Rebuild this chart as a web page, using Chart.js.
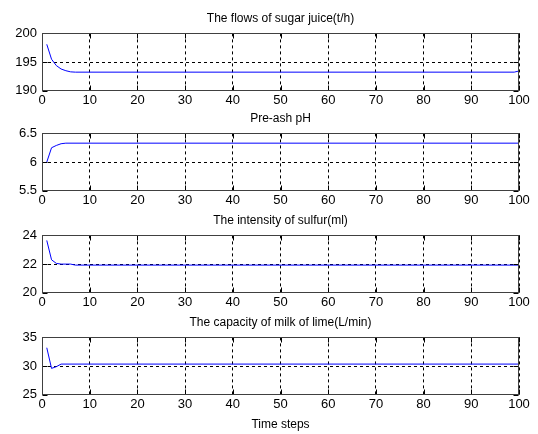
<!DOCTYPE html>
<html>
<head>
<meta charset="utf-8">
<script src="https://cdn.jsdelivr.net/npm/chart.js@4/dist/chart.umd.min.js"></script>
<style>
  body { margin: 0; background: #fff; }
  #wrap { position: relative; width: 538px; height: 434px; background: #fff; overflow: hidden; }
  canvas { position: absolute; left: 0; }
</style>
</head>
<body>
<div id="wrap">
  <canvas id="c1" width="538" height="120" style="top:1px"></canvas>
  <canvas id="c2" width="538" height="120" style="top:101px"></canvas>
  <canvas id="c3" width="538" height="120" style="top:203px"></canvas>
  <canvas id="c4" width="538" height="129" style="top:305px"></canvas>
</div>
<script>
// time steps where the curves change, plus the end of the run
const flowSteps = [1, 2, 3, 4, 5, 6, 7, 99, 100];
const flowValues = [198.1, 195.5, 194.4, 193.8, 193.5, 193.3, 193.25, 193.25, 193.45];

const phSteps = [1, 2, 3, 4, 5, 100];
const phValues = [6.0, 6.25, 6.29, 6.32, 6.33, 6.33];

const sulfurSteps = [1, 2, 3, 4, 6, 7, 100];
const sulfurValues = [23.65, 22.3, 22.05, 22.0, 22.0, 21.93, 21.93];

const limeSteps = [1, 2, 3, 4, 100];
const limeValues = [33.2, 29.6, 29.9, 30.35, 30.35];

const titles = [
  'The flows of sugar juice(t/h)',
  'Pre-ash pH',
  'The intensity of sulfur(ml)',
  'The capacity of milk of lime(L/min)'
];

Chart.defaults.font.family = '"Liberation Sans", Arial, sans-serif';
Chart.defaults.color = '#000';

// MATLAB style box with inward tick marks
const frame = {
  id: 'frame',
  afterDatasetsDraw(chart) {
    const { ctx, chartArea: a, scales: { x, y } } = chart;
    const L = Math.round(a.left) + 0.5, R = Math.round(a.right) - 0.5;
    const T = Math.round(a.top) + 0.5, B = Math.round(a.bottom) - 0.5;
    ctx.save();
    ctx.setLineDash([]);
    ctx.lineWidth = 1;
    ctx.strokeStyle = '#000';
    ctx.beginPath();
    x.ticks.forEach(t => {
      const px = Math.round(x.getPixelForValue(t.value)) + 0.5;
      ctx.moveTo(px, B); ctx.lineTo(px, B - 5);
      ctx.moveTo(px, T); ctx.lineTo(px, T + 5);
    });
    y.ticks.forEach(t => {
      const py = Math.round(y.getPixelForValue(t.value)) + 0.5;
      ctx.moveTo(L, py); ctx.lineTo(L + 5, py);
      ctx.moveTo(R, py); ctx.lineTo(R - 5, py);
    });
    ctx.stroke();
    ctx.strokeStyle = '#404040';
    ctx.strokeRect(L, T, R - L, B - T);
    ctx.restore();
  }
};

function makeChart(id, title, steps, values, yMin, yMax, yStep, xHeight, xLabel) {
  const canvas = document.getElementById(id);
  const padBottom = canvas.height - 32.4 - 57.4 - xHeight;
  return new Chart(canvas, {
    type: 'line',
    data: {
      datasets: [{
        data: steps.map((s, i) => ({ x: s, y: values[i] })),
        borderColor: '#0000ff',
        borderWidth: 1,
        pointRadius: 0,
        tension: 0,
        fill: false
      }]
    },
    options: {
      responsive: false,
      animation: false,
      devicePixelRatio: 1,
      layout: { padding: { left: 0, right: 19, top: 0, bottom: Math.max(padBottom, 0) } },
      plugins: {
        legend: { display: false },
        tooltip: { enabled: false },
        title: {
          display: true,
          text: title,
          fullSize: false,
          color: '#000',
          font: { size: 12, weight: 'normal' },
          padding: { top: 10, bottom: 8 }
        }
      },
      scales: {
        x: {
          type: 'linear',
          min: 0, max: 100,
          ticks: { stepSize: 10, padding: 2, font: { size: 13 }, maxRotation: 0 },
          grid: { color: '#000', drawTicks: false },
          border: { display: false, dash: [3, 3] },
          title: xLabel ? { display: true, text: xLabel, font: { size: 12 }, padding: { top: 2, bottom: 2 } } : { display: false },
          afterFit(s) { s.height = xHeight; }
        },
        y: {
          min: yMin, max: yMax,
          ticks: { stepSize: yStep, padding: 5, font: { size: 13 }, callback: v => String(v) },
          grid: { color: '#000', drawTicks: false },
          border: { display: false, dash: [3, 3] },
          afterFit(s) { s.width = 42; }
        }
      }
    },
    plugins: [frame]
  });
}

makeChart('c1', titles[0], flowSteps, flowValues, 190, 200, 5, 20);
makeChart('c2', titles[1], phSteps, phValues, 5.5, 6.5, 0.5, 20);
makeChart('c3', titles[2], sulfurSteps, sulfurValues, 20, 24, 2, 20);
makeChart('c4', titles[3], limeSteps, limeValues, 25, 35, 5, 39.2, 'Time steps');
</script>
</body>
</html>
